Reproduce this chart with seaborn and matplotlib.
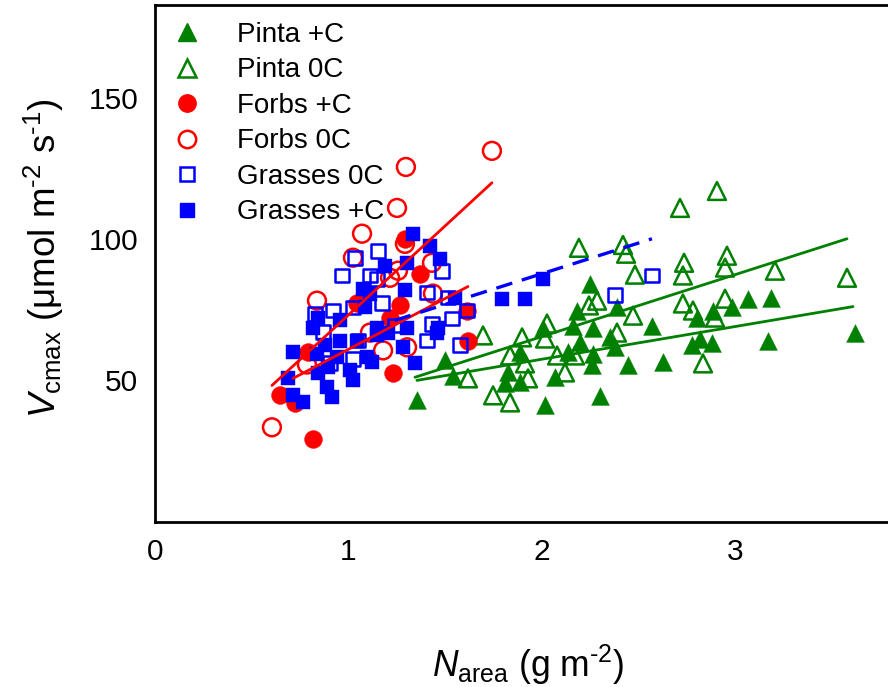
import matplotlib
matplotlib.use("Agg")
import matplotlib.pyplot as plt
import seaborn as sns
from matplotlib.lines import Line2D

# ---------------- data ----------------
pinta_c_x = [1.355, 1.500, 1.542, 1.811, 1.826, 1.888, 1.888, 2.007, 2.018, 2.069,
             2.137, 2.162, 2.183, 2.199, 2.250, 2.261, 2.266, 2.266, 2.302, 2.354,
             2.380, 2.390, 2.447, 2.571, 2.628, 2.778, 2.804, 2.819, 2.882, 2.887,
             2.985, 3.068, 3.187, 3.171, 3.620]
pinta_c_y = [42.9, 57.1, 51.4, 48.9, 52.8, 59.9, 49.3, 68.7, 41.2, 51.1,
             59.9, 69.4, 74.7, 63.4, 84.2, 55.3, 68.7, 59.5, 44.3, 65.2,
             61.7, 75.8, 55.6, 69.1, 56.4, 62.4, 71.9, 64.8, 63.1, 74.7,
             75.8, 78.9, 79.3, 64.1, 66.6]

pinta_0_x = [1.619, 1.697, 1.749, 1.837, 1.837, 1.899, 1.914, 1.930, 2.018, 2.028,
             2.080, 2.121, 2.173, 2.193, 2.245, 2.287, 2.390, 2.421, 2.437, 2.473,
             2.483, 2.716, 2.731, 2.737, 2.731, 2.783, 2.897, 2.907, 2.949, 2.949,
             2.959, 2.835, 3.207, 3.580]
pinta_0_y = [50.7, 65.9, 44.7, 58.8, 42.2, 65.2, 56.0, 50.7, 64.8, 70.1,
             58.8, 52.8, 58.8, 96.9, 76.5, 78.2, 66.9, 97.9, 94.8, 72.9,
             87.4, 111.0, 87.1, 91.6, 77.2, 74.7, 72.2, 117.0, 78.9, 89.9,
             94.1, 56.0, 88.8, 86.3]

forbs_c_x = [0.647, 0.724, 0.792, 0.817, 1.045, 1.216, 1.231, 1.267, 1.293, 1.371,
             1.614, 1.619]
forbs_c_y = [44.7, 41.9, 59.9, 29.2, 77.5, 72.2, 52.5, 76.5, 100.0, 87.8,
             74.7, 64.1]

forbs_0_x = [0.605, 0.786, 0.838, 1.024, 1.071, 1.112, 1.180, 1.216, 1.252, 1.257,
             1.293, 1.298, 1.304, 1.433, 1.438, 1.743]
forbs_0_y = [33.4, 55.6, 78.2, 93.4, 101.9, 66.9, 60.6, 86.3, 111.0, 88.8,
             98.3, 125.5, 61.7, 91.6, 80.7, 131.2]

grass_0_x = [0.828, 0.869, 0.905, 0.921, 0.967, 1.024, 1.024, 1.035, 1.050, 1.112,
             1.148, 1.154, 1.174, 1.242, 1.407, 1.407, 1.433, 1.485, 1.516, 1.536,
             1.578, 1.614, 2.380, 2.571]
grass_0_y = [73.6, 67.0, 56.0, 74.7, 87.1, 75.8, 57.7, 93.4, 64.1, 87.1,
             86.0, 95.9, 77.5, 69.4, 81.1, 64.1, 70.1, 88.8, 79.3, 71.9,
             62.4, 74.7, 80.3, 87.1]

grass_c_x = [0.688, 0.714, 0.714, 0.766, 0.817, 0.843, 0.838, 0.843, 0.879, 0.890,
             0.895, 0.916, 0.942, 0.957, 0.957, 1.009, 1.024, 1.045, 1.076, 1.086,
             1.097, 1.112, 1.123, 1.148, 1.148, 1.190, 1.205, 1.283, 1.293, 1.304,
             1.304, 1.335, 1.345, 1.423, 1.459, 1.464, 1.474, 1.552, 1.795, 1.914,
             2.007]
grass_c_y = [50.7, 59.9, 44.7, 42.2, 68.7, 72.2, 59.5, 52.5, 62.4, 47.5,
             54.6, 44.0, 58.1, 71.2, 64.1, 53.5, 50.0, 64.1, 82.5, 75.8,
             58.1, 80.7, 56.4, 68.7, 65.9, 90.6, 66.6, 61.7, 81.8, 91.6,
             68.7, 101.9, 56.0, 97.6, 66.6, 68.7, 93.0, 79.3, 78.9, 78.9,
             86.0]

# fitted regression lines (end points)
fit_pinta_c_x = [1.355, 3.611]
fit_pinta_c_y = [50.0, 76.1]
fit_pinta_0_x = [1.345, 3.580]
fit_pinta_0_y = [51.1, 100.1]
fit_forbs_c_x = [0.714, 1.619]
fit_forbs_c_y = [50.7, 83.2]
fit_forbs_0_x = [0.605, 1.743]
fit_forbs_0_y = [48.2, 119.9]
fit_grass_0_x = [1.24, 2.571]
fit_grass_0_y = [71.2, 100.1]

x_ticks = [0, 1, 2, 3]
y_ticks = [50, 100, 150]
legend_labels = ["Pinta +C", "Pinta 0C", "Forbs +C", "Forbs 0C", "Grasses 0C", "Grasses +C"]

# ---------------- style ----------------
sns.set_style("white")
plt.rcParams["font.family"] = ["Liberation Sans", "DejaVu Sans"]
plt.rcParams["mathtext.fontset"] = "custom"
plt.rcParams["mathtext.rm"] = "Liberation Sans"
plt.rcParams["mathtext.it"] = "Liberation Sans:italic"
plt.rcParams["mathtext.bf"] = "Liberation Sans:bold"
for key in ["text.color", "axes.labelcolor", "xtick.color", "ytick.color"]:
    plt.rcParams[key] = "black"

GREEN = "#008000"
RED = "#FF0000"
BLUE = "#0000FF"

fig = plt.figure(figsize=(8.88, 6.87), dpi=100)
ax = fig.add_axes([155 / 888, 165.3 / 687, 733 / 888, 516.7 / 687])

S_TRI, S_CIR, S_SQ = 165, 165, 100
EW = 1.8

def filled(x, y, marker, color, s):
    sns.scatterplot(x=x, y=y, marker=marker, s=s, color=color, edgecolor=color,
                    linewidth=0.3, ax=ax, zorder=3, legend=False)

def hollow(x, y, marker, color, s):
    sns.scatterplot(x=x, y=y, marker=marker, s=s, color=color, facecolor="none",
                    edgecolor=color, linewidth=EW, ax=ax, zorder=3, legend=False)

filled(pinta_c_x, pinta_c_y, "^", GREEN, S_TRI)
hollow(pinta_0_x, pinta_0_y, "^", GREEN, S_TRI)
filled(forbs_c_x, forbs_c_y, "o", RED, S_CIR)
hollow(forbs_0_x, forbs_0_y, "o", RED, S_CIR)
hollow(grass_0_x, grass_0_y, "s", BLUE, S_SQ)
filled(grass_c_x, grass_c_y, "s", BLUE, S_SQ)

LW = 2.0
sns.lineplot(x=fit_pinta_c_x, y=fit_pinta_c_y, color=GREEN, linewidth=LW, ax=ax, zorder=4)
sns.lineplot(x=fit_pinta_0_x, y=fit_pinta_0_y, color=GREEN, linewidth=LW, ax=ax, zorder=4)
sns.lineplot(x=fit_forbs_c_x, y=fit_forbs_c_y, color=RED, linewidth=LW, ax=ax, zorder=4)
sns.lineplot(x=fit_forbs_0_x, y=fit_forbs_0_y, color=RED, linewidth=LW, ax=ax, zorder=4)
sns.lineplot(x=fit_grass_0_x, y=fit_grass_0_y, color=BLUE, linewidth=2.4,
             linestyle=(0, (5, 3)), ax=ax, zorder=4)

ax.set_xlim(0, 3.792)
ax.set_ylim(0, 182.8)
ax.set_xticks(x_ticks)
ax.set_xticklabels([str(t) for t in x_ticks])
ax.set_yticks(y_ticks)
ax.set_yticklabels([str(t) for t in y_ticks])
ax.tick_params(axis="both", direction="in", length=5, width=1.5, labelsize=21.5,
               pad=12, colors="black")

for side in ["left", "bottom", "top"]:
    ax.spines[side].set_visible(True)
    ax.spines[side].set_color("black")
    ax.spines[side].set_linewidth(2.0)
ax.spines["right"].set_visible(False)

ax.set_xlabel(r"$N_{\mathrm{area}}$ (g m$^{\text{-2}}$)", fontsize=25.6)
ax.set_ylabel(r"$V_{\mathrm{cmax}}$ ($\mathrm{\mu}$mol m$^{\text{-2}}$ s$^{\text{-1}}$)", fontsize=26.5)
ax.xaxis.set_label_coords(0.509, -0.235)
ax.yaxis.set_label_coords(-0.122, 0.51)

handles = [
    Line2D([], [], linestyle="none", marker="^", markersize=12.5, color=GREEN, markeredgecolor=GREEN),
    Line2D([], [], linestyle="none", marker="^", markersize=12.5, markerfacecolor="none", markeredgecolor=GREEN, markeredgewidth=EW),
    Line2D([], [], linestyle="none", marker="o", markersize=12.5, color=RED, markeredgecolor=RED),
    Line2D([], [], linestyle="none", marker="o", markersize=12.5, markerfacecolor="none", markeredgecolor=RED, markeredgewidth=EW),
    Line2D([], [], linestyle="none", marker="s", markersize=10, markerfacecolor="none", markeredgecolor=BLUE, markeredgewidth=EW),
    Line2D([], [], linestyle="none", marker="s", markersize=10, color=BLUE, markeredgecolor=BLUE),
]
leg = ax.legend(handles, legend_labels, loc="upper left", bbox_to_anchor=(0.0055, 0.967),
                frameon=False, fontsize=20, borderpad=0, borderaxespad=0,
                handlelength=2.0, handletextpad=0.79, labelspacing=0.34)

fig.savefig("out.png", dpi=100)
